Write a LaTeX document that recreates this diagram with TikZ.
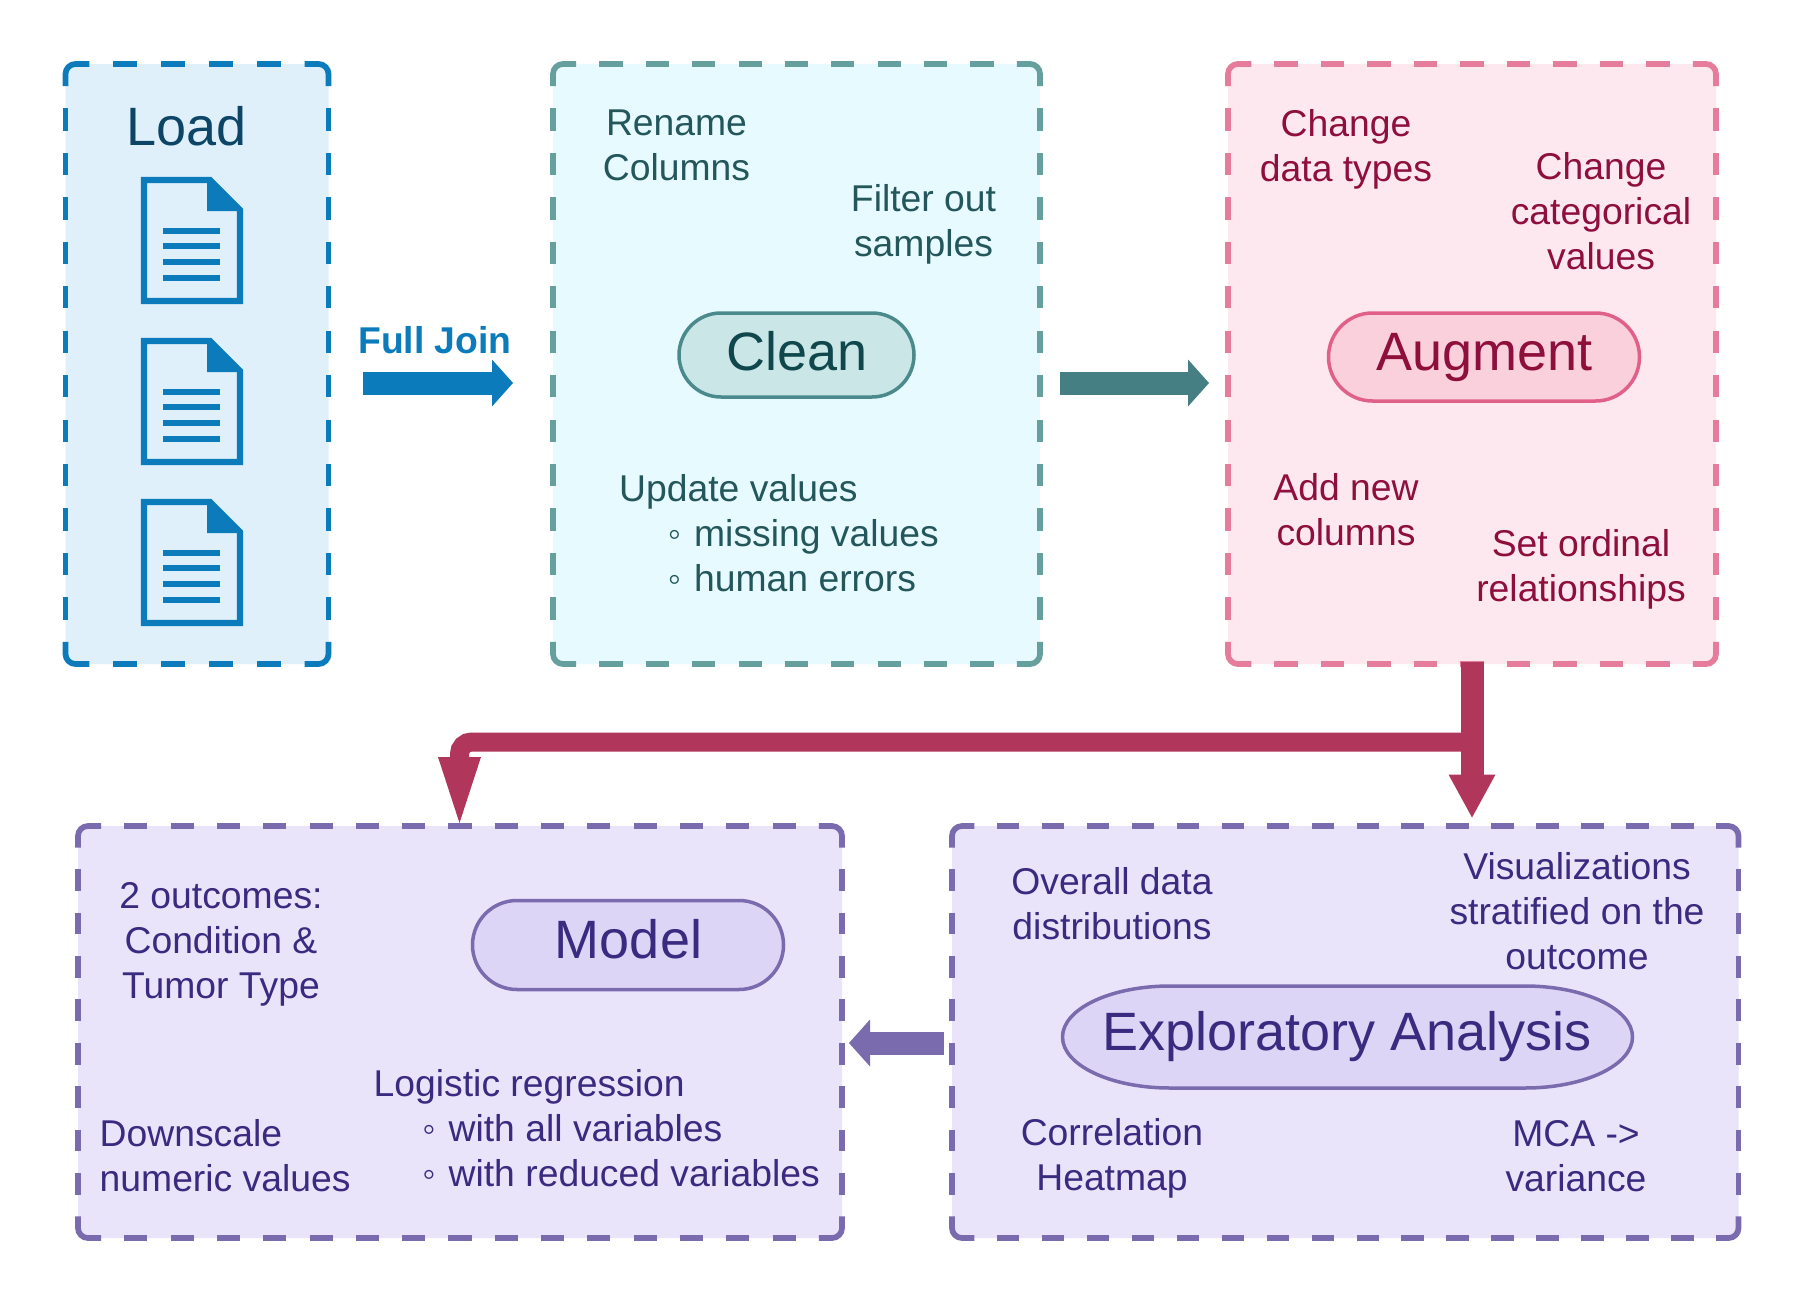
\documentclass[tikz,border=0pt]{standalone}
\usepackage{fontspec}
\setmainfont{Liberation Sans}
\usetikzlibrary{arrows.meta,shapes.misc}
\definecolor{loadS}{HTML}{0C7BBB}\definecolor{loadF}{HTML}{DFF0FA}\definecolor{loadT}{HTML}{0C4566}
\definecolor{cleanS}{HTML}{66A09E}\definecolor{cleanF}{HTML}{E6FAFF}\definecolor{cleanT}{HTML}{0F474D}\definecolor{cleanB}{HTML}{23575C}
\definecolor{cleanPS}{HTML}{4A8A8C}\definecolor{cleanPF}{HTML}{CAE6E6}\definecolor{cleanA}{HTML}{457F84}
\definecolor{augS}{HTML}{E57C9C}\definecolor{augF}{HTML}{FDE8EF}\definecolor{augT}{HTML}{8E0F3C}
\definecolor{augPS}{HTML}{E0608A}\definecolor{augPF}{HTML}{FAD0DC}\definecolor{augA}{HTML}{B0375B}
\definecolor{purS}{HTML}{7A6BAE}\definecolor{purF}{HTML}{E9E4FA}\definecolor{purT}{HTML}{3A2A80}
\definecolor{purPF}{HTML}{DCD5F6}
\tikzset{
  body/.style={font=\fontsize{37.3}{45}\selectfont,align=center,inner sep=0pt,text=#1},
  lbody/.style={font=\fontsize{37.3}{45}\selectfont,align=left,inner sep=0pt,text=#1},
  title/.style={font=\fontsize{54}{64}\selectfont,inner sep=0pt,text=#1},
  pill/.style n args={2}{rounded rectangle,draw=#1,fill=#2,line width=3.5pt,inner sep=0pt},
  bigarrow/.style n args={4}{draw=#1,line width=#2,-{Triangle[length=#3,width=#4,line width=0pt]}},
  docline/.style={draw=loadS,line width=6pt},
  doc/.pic={
    \draw[loadS,line width=6.3pt,miter limit=10] (3,3) -- (69,3) -- (99,33) -- (99,124) -- (3,124) -- cycle;
    \fill[loadS] (66,3) -- (99,34) -- (66,34) -- cycle;
    \foreach \yy in {54,69,85,101} \draw[docline] (22,\yy) -- (79,\yy);
  }
}
\newcommand{\dbox}[9]{%
  % name, x0, y0, x1, y1, stroke, fill, hdiv, vdiv
  \pgfmathsetmacro{\wid}{#4-#2}\pgfmathsetmacro{\hei}{#5-#3}%
  \pgfmathsetmacro{\ch}{\wid/#8}\pgfmathsetmacro{\cv}{\hei/#9}%
  \node[anchor=north west,inner sep=0pt,fill=#7,rounded corners=10pt,minimum width=\wid pt,minimum height=\hei pt] (#1) at (#2,#3) {};
  \begin{scope}[draw=#6,line width=5.7pt]
    \draw[rounded corners=10pt] (#2+\ch,#3) -- (#2,#3) -- (#2,#3+\cv);
    \draw[rounded corners=10pt] (#4-\ch,#3) -- (#4,#3) -- (#4,#3+\cv);
    \draw[rounded corners=10pt] (#2+\ch,#5) -- (#2,#5) -- (#2,#5-\cv);
    \draw[rounded corners=10pt] (#4-\ch,#5) -- (#4,#5) -- (#4,#5-\cv);
    \draw[dash pattern=on \ch pt off \ch pt] (#2+2*\ch,#3) -- (#4-2*\ch,#3);
    \draw[dash pattern=on \ch pt off \ch pt] (#2+2*\ch,#5) -- (#4-2*\ch,#5);
    \draw[dash pattern=on \cv pt off \cv pt] (#2,#3+2*\cv) -- (#2,#5-2*\cv);
    \draw[dash pattern=on \cv pt off \cv pt] (#4,#3+2*\cv) -- (#4,#5-2*\cv);
  \end{scope}%
}
\newcommand{\bul}{\hspace*{75pt}\llap{\raisebox{0pt}{◦}\hspace{13pt}}}
\begin{document}
\begin{tikzpicture}[x=1pt,y=-1pt]
\useasboundingbox (0,0) rectangle (1798,1292);
\fill[white] (0,0) rectangle (1798,1292);
\dbox{load}{65.5}{64}{328.5}{664}{loadS}{loadF}{11}{27}
\dbox{clean}{553}{64}{1040}{664}{cleanS}{cleanF}{21}{27}
\dbox{augment}{1228}{64}{1716}{664}{augS}{augF}{21}{27}
\dbox{model}{78}{826}{842}{1238}{purS}{purF}{33}{19}
\dbox{explore}{952}{826}{1738.5}{1238}{purS}{purF}{35}{19}

\node[title=loadT] (loadt) at (186.5,126.5) {Load};
\pic at (141,177) {doc};
\pic at (141,338) {doc};
\pic at (141,499) {doc};

\node[pill={cleanPS}{cleanPF},minimum width=235pt,minimum height=84pt] (cleanp) at (796.5,355) {};
\node[title=cleanT] (cleant) at (797,351) {Clean};
\node[body=cleanB] (c1) at (676.5,145.5) {Rename\\Columns};
\node[body=cleanB] (c2) at (923.5,224) {Filter out\\samples};
\node[lbody=cleanB,anchor=west] (c3) at (619,533) {Update values\\\bul missing values\\\bul human errors};

\node[pill={augPS}{augPF},minimum width=311pt,minimum height=88pt] (augp) at (1484,357) {};
\node[title=augT] (augt) at (1484.5,358) {Augment};
\node[body=augT] (a1) at (1346,149) {Change\\data types};
\node[body=augT] (a2) at (1601,211) {Change\\categorical\\values};
\node[body=augT] (a3) at (1346,509.5) {Add new\\columns};
\node[body=augT] (a4) at (1581,569.5) {Set ordinal\\relationships};

\node[pill={purS}{purPF},minimum width=311pt,minimum height=89pt] (modp) at (628,945) {};
\node[title=purT] (modt) at (628.5,939) {Model};
\node[body=purT] (m1) at (221,944) {2 outcomes:\\Condition \&\\Tumor Type};
\node[lbody=purT,anchor=west] (m2) at (99.5,1156) {Downscale\\numeric values};
\node[lbody=purT,anchor=west] (m3) at (373.5,1128) {Logistic regression\\\bul with all variables\\\bul with reduced variables};

\draw[purS,fill=purPF,line width=3.5pt] (1170,986) -- (1525,986) arc[start angle=90,end angle=0,x radius=107.5pt,y radius=51pt] arc[start angle=0,end angle=-90,x radius=107.5pt,y radius=51pt] -- (1170,1088) arc[start angle=-90,end angle=-180,x radius=107.5pt,y radius=51pt] arc[start angle=180,end angle=90,x radius=107.5pt,y radius=51pt] -- cycle;
\node[title=purT] (expt) at (1347,1036.5) {Exploratory Analysis};
\node[body=purT] (e1) at (1112,903.5) {Overall data\\distributions};
\node[body=purT] (e2) at (1577,911.5) {Visualizations\\stratified on the\\outcome};
\node[body=purT] (e3) at (1112,1158) {Correlation\\Heatmap};
\node[body=purT] (e4) at (1576,1156) {MCA ->\\variance};

\node[font=\fontsize{37.3}{45}\selectfont\bfseries,text=loadS,inner sep=0pt] (fj) at (435,340.6) {Full Join};

\coordinate (j1) at (363,383); \coordinate (j2) at (513,383);
\coordinate (k1) at (1060,383); \coordinate (k2) at (1209,383);
\coordinate (r1) at (1472,662); \coordinate (r2) at (1472,817.5);
\coordinate (b1) at (1472,742); \coordinate (b2) at (459.5,742); \coordinate (b3) at (459.5,823);
\coordinate (p1) at (944,1043); \coordinate (p2) at (849,1043);
\draw[bigarrow={loadS}{23pt}{21pt}{47pt}] (j1) -- (j2);
\draw[bigarrow={cleanA}{23pt}{21pt}{47pt}] (k1) -- (k2);
\draw[bigarrow={purS}{23pt}{21pt}{47pt}] (p1) -- (p2);
\draw[bigarrow={augA}{19pt}{66pt}{43pt},rounded corners=12pt] (b1) -- (b2) -- (b3);
\draw[bigarrow={augA}{23pt}{43pt}{47pt}] (r1) -- (r2);
\end{tikzpicture}
\end{document}
